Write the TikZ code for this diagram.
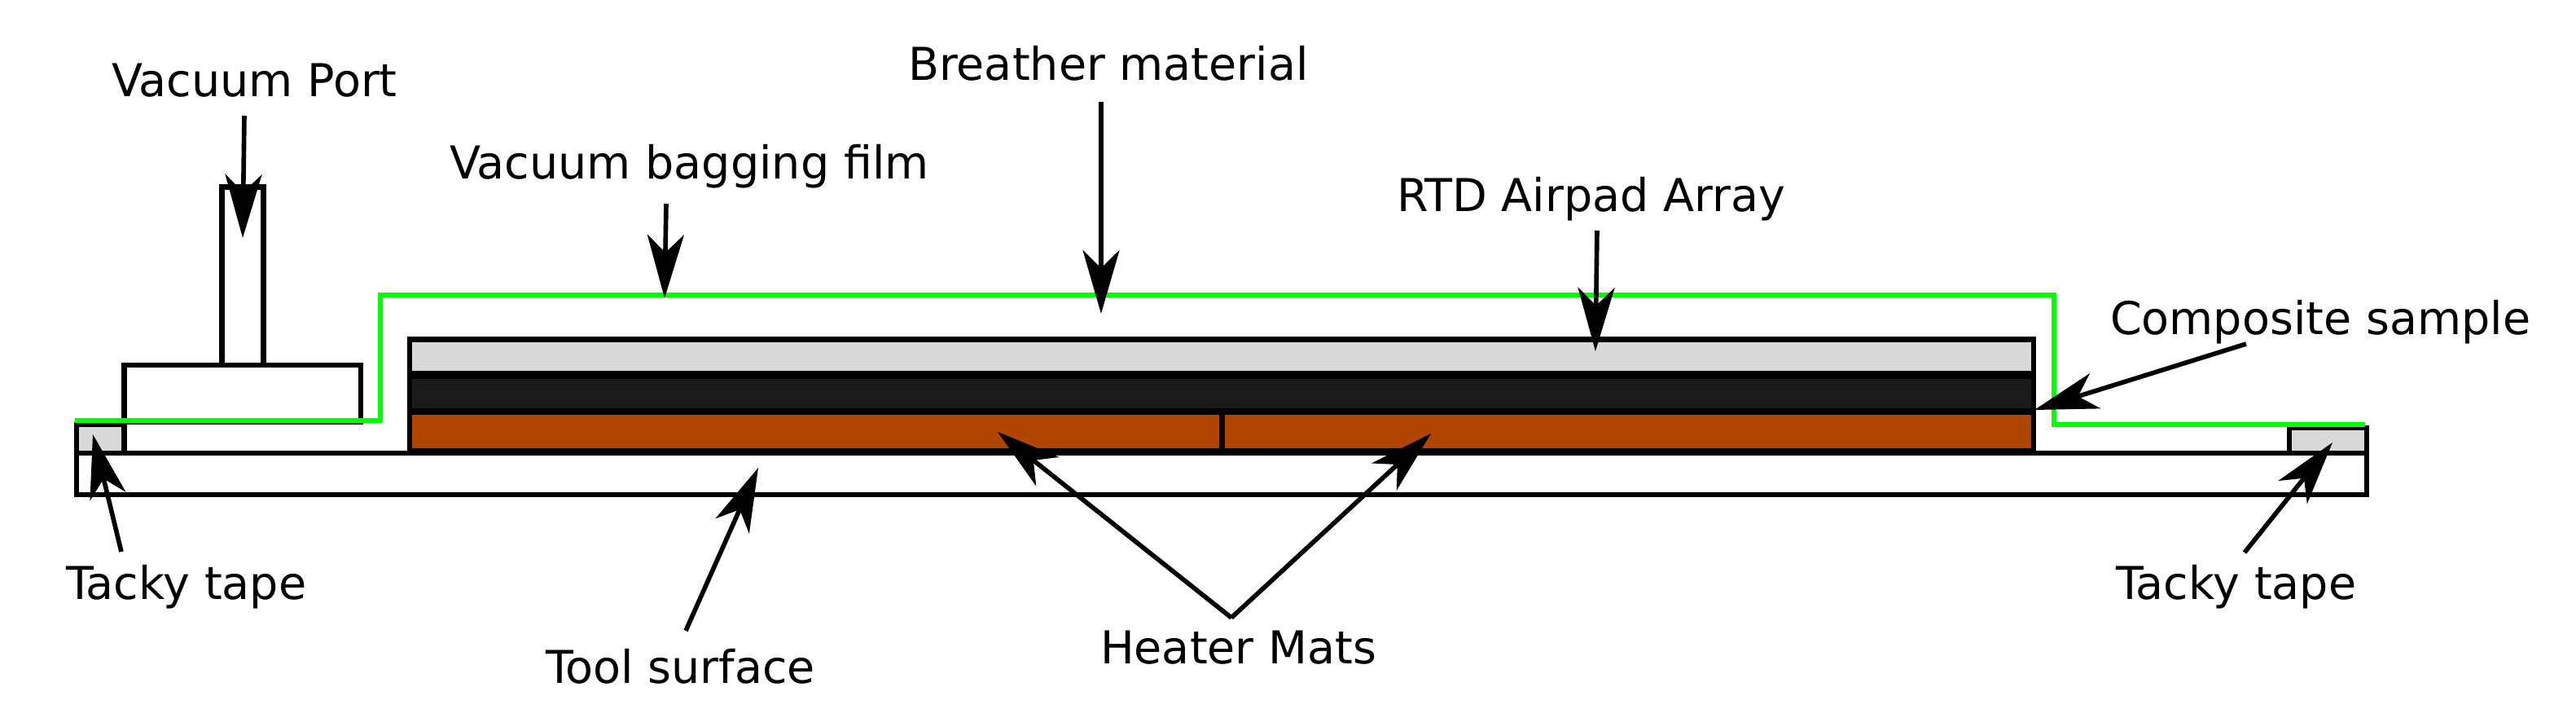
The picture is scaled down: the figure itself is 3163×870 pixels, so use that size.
\documentclass[tikz,border=0pt]{standalone}
\usepackage{fontspec}
\setmainfont{DejaVu Sans}
\usetikzlibrary{arrows.meta}
\definecolor{bagfilm}{RGB}{0,255,0}
\definecolor{tapegray}{RGB}{217,217,217}
\definecolor{sampledark}{RGB}{26,26,26}
\definecolor{heatermat}{RGB}{176,69,0}
\tikzset{
  part/.style={draw=black,line width=1.8pt,line join=miter},
  film/.style={draw=bagfilm,line width=1.7pt,line join=miter},
  callout/.style={draw=black,line width=1.6pt,-{Stealth[length=7.8mm,width=4.5mm,inset=2.2mm]}},
  lbl/.style={anchor=base west,inner sep=0pt,outer sep=0pt,font=\fontsize{15.8pt}{18pt}\selectfont}
}
\begin{document}
\begin{tikzpicture}[x=0.01cm,y=-0.01cm]
\useasboundingbox (0,0) rectangle (3163,870);
% tool
\draw[part] (94,556) rectangle (2906,607);
% tapes
\draw[part,fill=tapegray] (94,521) rectangle (152.5,556);
\draw[part,fill=tapegray] (2811,525) rectangle (2906,556);
% vacuum port
\draw[part,fill=white] (272.5,229.5) rectangle (323.5,448);
\draw[part,fill=white] (152.5,448) rectangle (443,518);
% stack
\draw[part,fill=tapegray] (503,416.5) rectangle (2497,458);
\draw[part,fill=sampledark] (503,462) rectangle (2497,504);
\draw[part,fill=heatermat] (503,506) rectangle (1500.5,553);
\draw[part,fill=heatermat] (1500.5,506) rectangle (2497,553);
% bagging film
\draw[film] (92,516) -- (467,516) -- (467,362) -- (2522,362) -- (2522,521) -- (2904,521);
% labels
\node[lbl] (vp) at (137,119) {Vacuum Port};
\node[lbl] (vb) at (552,219) {Vacuum bagging film};
\node[lbl] (br) at (1115,99) {Breather material};
\node[lbl] (rtd) at (1715,259) {RTD Airpad Array};
\node[lbl] (cs) at (2591,410) {Composite sample};
\node[lbl] (ttl) at (81,735) {Tacky tape};
\node[lbl] (ts) at (670,838) {Tool surface};
\node[lbl] (hm) at (1351,814) {Heater Mats};
\node[lbl] (ttr) at (2598,735) {Tacky tape};
% arrow ends
\coordinate (vpa) at (300,142);  \coordinate (vpb) at (298,292);
\coordinate (vba) at (818,250);  \coordinate (vbb) at (816,366);
\coordinate (bra) at (1352,125); \coordinate (brb) at (1352,385);
\coordinate (rta) at (1961,283); \coordinate (rtb) at (1959,431);
\coordinate (csa) at (2758,422); \coordinate (csb) at (2498,503);
\coordinate (tla) at (149,677);  \coordinate (tlb) at (114,533);
\coordinate (tsa) at (842,774);  \coordinate (tsb) at (931,574);
\coordinate (tra) at (2756,678); \coordinate (trb) at (2864,543);
\coordinate (hma) at (1512,758); \coordinate (hml) at (1225,530); \coordinate (hmr) at (1757,532);
\draw[callout] (vpa) -- (vpb);
\draw[callout] (vba) -- (vbb);
\draw[callout] (bra) -- (brb);
\draw[callout] (rta) -- (rtb);
\draw[callout] (csa) -- (csb);
\draw[callout] (tla) -- (tlb);
\draw[callout] (tsa) -- (tsb);
\draw[callout] (tra) -- (trb);
\draw[callout] (hma) -- (hml);
\draw[callout] (hma) -- (hmr);
\end{tikzpicture}
\end{document}
